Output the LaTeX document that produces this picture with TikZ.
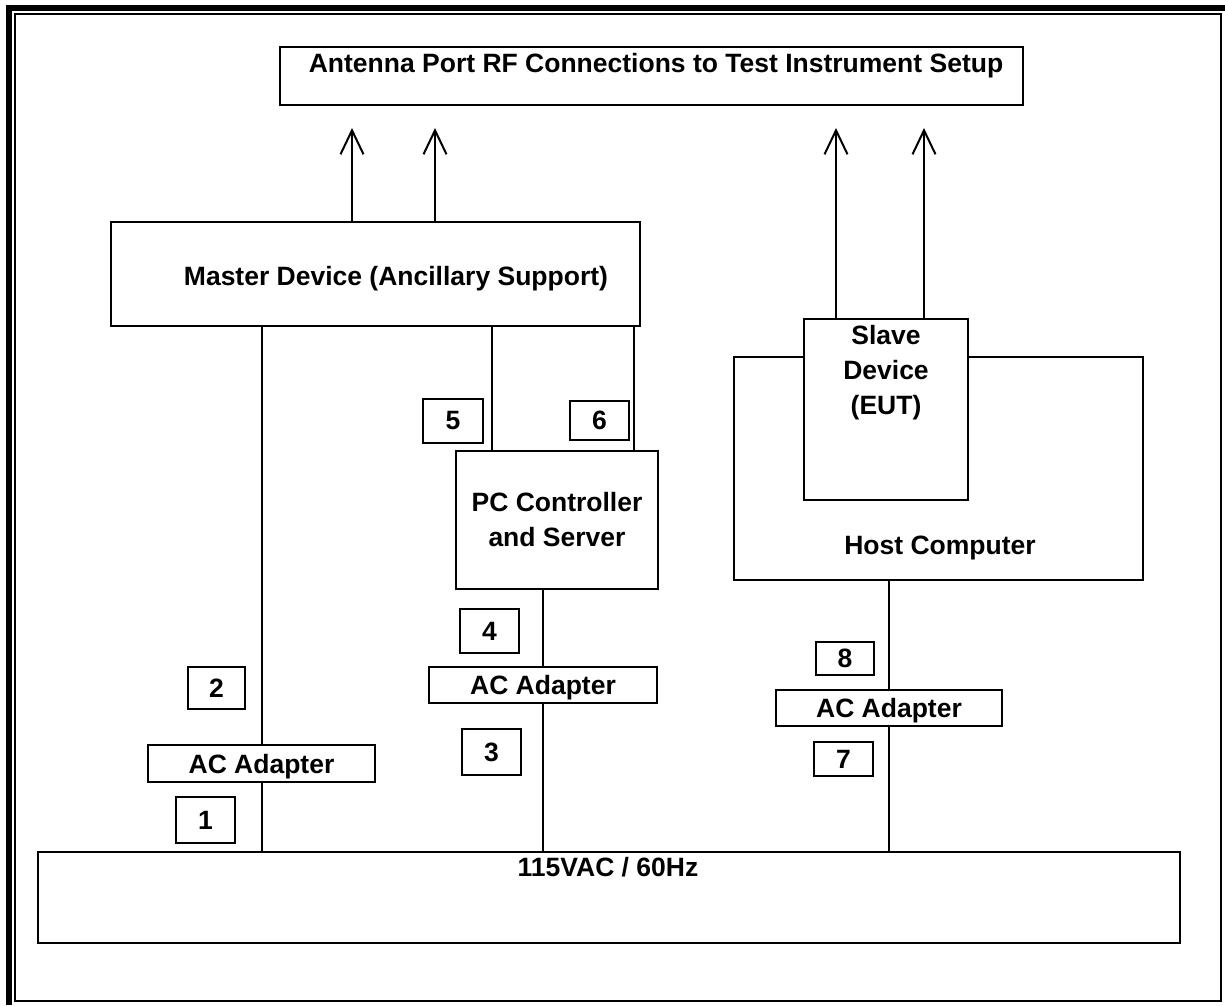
\documentclass[tikz,border=0pt]{standalone}
\usepackage{fontspec}
\setmainfont{Liberation Sans}
\usetikzlibrary{arrows.meta}
\begin{document}
\begin{tikzpicture}[x=1pt,y=-1pt,
  box/.style={draw, line width=2pt, inner sep=0pt, fill=white},
  txt/.style={font=\fontsize{26.5}{35}\selectfont\bfseries, inner sep=0pt, align=center},
  acbox/.style={box, txt, text depth=0pt},
  conn/.style={line width=2pt},
  arr/.style={line width=2pt, -{Straight Barb[length=24pt,width=23pt]}}]
\useasboundingbox (0,0) rectangle (1225,1005);
% frame
\fill (6,5) rectangle (12,1005);
\fill (6,5) rectangle (1225,11);
\draw[line width=2pt] (15,14) rectangle (1221,1001);
% boxes
\node[box, minimum width=743pt, minimum height=58pt] (ant) at (651.5,76) {};
\node[txt] (anttxt) at (656,66) {Antenna Port RF Connections to Test Instrument Setup};
\node[box, minimum width=529pt, minimum height=104pt] (master) at (375.5,274) {};
\node[txt] (mastertxt) at (396,279) {Master Device (Ancillary Support)};
\node[box, txt, minimum width=202pt, minimum height=138pt] (pc) at (557,520) {PC Controller\\and Server};
\node[box, minimum width=409pt, minimum height=223pt] (host) at (938.5,468.5) {};
\node[txt] (hosttxt) at (940,548) {Host Computer};
\node[box, minimum width=164pt, minimum height=181pt] (slave) at (886,409.5) {};
\node[txt] (slavetxt) at (886,373) {Slave\\Device\\(EUT)};
\node[acbox, minimum width=227pt, minimum height=37pt] (ac1) at (261.5,763.5) {AC Adapter};
\node[acbox, minimum width=228pt, minimum height=36pt] (ac2) at (543,685) {AC Adapter};
\node[acbox, minimum width=226pt, minimum height=36pt] (ac3) at (889,708) {AC Adapter};
\node[box, minimum width=1142pt, minimum height=91pt] (mains) at (609,897.5) {};
\node[txt] (mainstxt) at (608,867) {115VAC / 60Hz};
% number boxes
\node[box, txt, minimum width=59pt, minimum height=46pt] (n1) at (205.5,820) {1};
\node[box, txt, minimum width=57pt, minimum height=42pt] (n2) at (216.5,688) {2};
\node[box, txt, minimum width=59pt, minimum height=46pt] (n3) at (491.5,752) {3};
\node[box, txt, minimum width=59pt, minimum height=44pt] (n4) at (489.5,631) {4};
\node[box, txt, minimum width=60pt, minimum height=44pt] (n5) at (453,421) {5};
\node[box, txt, minimum width=59pt, minimum height=39pt] (n6) at (599.5,420.5) {6};
\node[box, txt, minimum width=59pt, minimum height=34pt] (n7) at (843.5,759) {7};
\node[box, txt, minimum width=58pt, minimum height=33pt] (n8) at (845,658.5) {8};
% connectors
\draw[conn] (ac1.north) -- (ac1.north |- master.south);
\draw[conn] (ac1.south) -- (ac1.south |- mains.north);
\coordinate (p5) at (492,451);
\coordinate (p6) at (634,451);
\draw[conn] (p5 |- pc.north) -- (p5 |- master.south);
\draw[conn] (p6 |- pc.north) -- (p6 |- master.south);
\draw[conn] (ac2.north) -- (ac2.north |- pc.south);
\draw[conn] (ac2.south) -- (ac2.south |- mains.north);
\draw[conn] (ac3.north) -- (ac3.north |- host.south);
\draw[conn] (ac3.south) -- (ac3.south |- mains.north);
% arrows
\coordinate (m1) at (352,128);
\coordinate (m2) at (435,128);
\coordinate (s1) at (836,128);
\coordinate (s2) at (924,128);
\draw[arr] (m1 |- master.north) -- (m1);
\draw[arr] (m2 |- master.north) -- (m2);
\draw[arr] (s1 |- slave.north) -- (s1);
\draw[arr] (s2 |- slave.north) -- (s2);
\end{tikzpicture}
\end{document}
